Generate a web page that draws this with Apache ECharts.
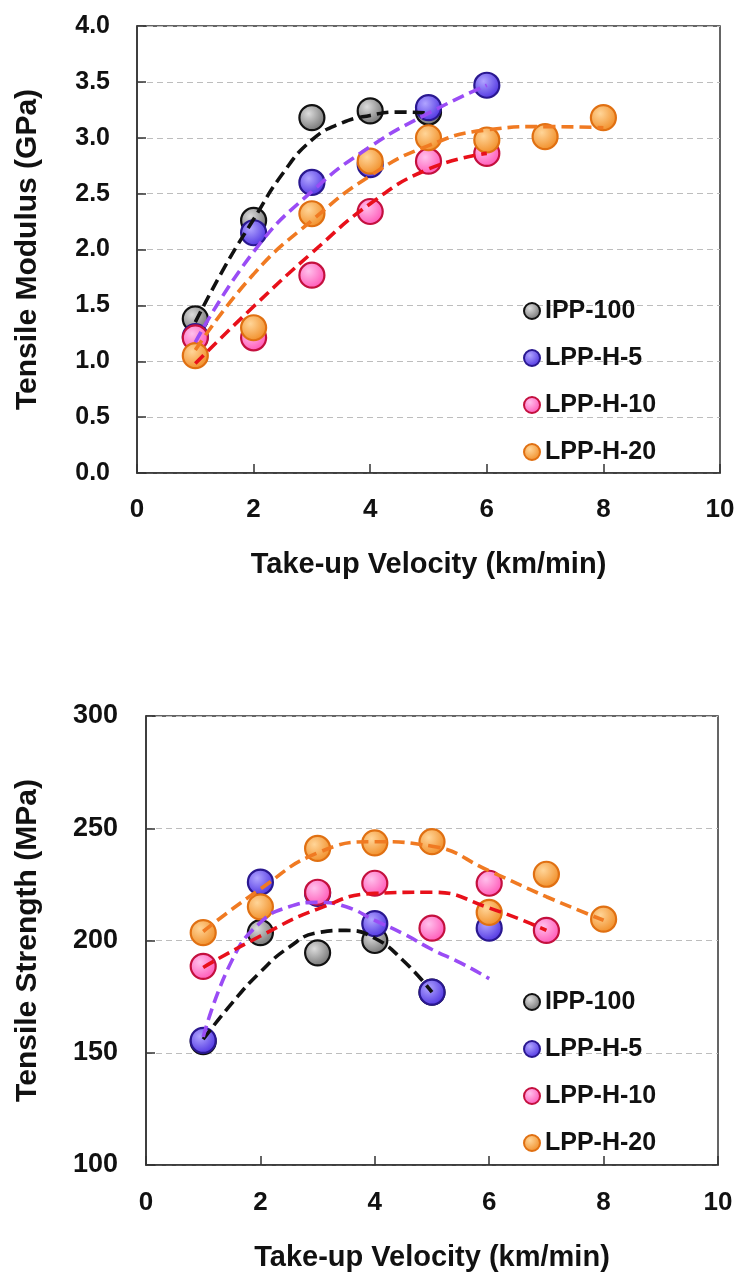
<!DOCTYPE html>
<html>
<head>
<meta charset="utf-8">
<script src="https://cdn.jsdelivr.net/npm/echarts@6/dist/echarts.min.js"></script>
<style>
html,body{margin:0;padding:0;background:#fff;}
#chart{width:740px;height:1275px;}
</style>
</head>
<body>
<div id="chart"></div>
<script>
// ---------- data ----------
const seriesNames = ['IPP-100', 'LPP-H-5', 'LPP-H-10', 'LPP-H-20'];
const xTicks = [0, 2, 4, 6, 8, 10];

// Tensile modulus (GPa) - measured points
const modVelIPP = [1, 2, 3, 4, 5];
const modIPP    = [1.38, 2.26, 3.18, 3.24, 3.23];
const modVelH5  = [1, 2, 3, 4, 5, 6];
const modH5     = [1.22, 2.15, 2.60, 2.76, 3.27, 3.47];
const modVelH10 = [1, 2, 3, 4, 5, 6];
const modH10    = [1.21, 1.21, 1.77, 2.34, 2.79, 2.86];
const modVelH20 = [1, 2, 3, 4, 5, 6, 7, 8];
const modH20    = [1.05, 1.30, 2.32, 2.79, 3.00, 2.98, 3.01, 3.18];

// Tensile modulus - fitted trend lines
const modFitVelIPP = [1, 1.5, 2, 2.5, 3, 3.5, 4, 4.5, 5];
const modFitIPP    = [1.35, 1.84, 2.27, 2.68, 2.98, 3.13, 3.20, 3.23, 3.22];
const modFitVelH5  = [1, 2, 3, 4, 5, 6];
const modFitH5     = [1.17, 1.98, 2.52, 2.92, 3.22, 3.47];
const modFitVelH10 = [1, 2, 3, 4, 5, 6];
const modFitH10    = [0.98, 1.49, 1.97, 2.41, 2.72, 2.86];
const modFitVelH20 = [1, 2, 3, 4, 5, 6, 7, 8];
const modFitH20    = [1.10, 1.78, 2.26, 2.66, 2.93, 3.07, 3.10, 3.09];

// Tensile strength (MPa) - measured points
const strVelIPP = [1, 2, 3, 4, 5];
const strIPP    = [155, 203.5, 194.5, 200, 177];
const strVelH5  = [1, 2, 3, 4, 5, 6];
const strH5     = [155.5, 226, 221, 207.5, 177, 205.5];
const strVelH10 = [1, 3, 4, 5, 6, 7];
const strH10    = [188.5, 221.5, 225.5, 205.5, 225.5, 204.5];
const strVelH20 = [1, 2, 3, 4, 5, 6, 7, 8];
const strH20    = [203.5, 215, 241, 243.5, 244, 212.5, 229.5, 209.5];

// Tensile strength - fitted trend lines
const strFitVelIPP = [1, 1.5, 2, 2.5, 3, 3.5, 4, 4.5, 5];
const strFitIPP    = [156, 172, 186, 197, 203.5, 204.5, 201, 191, 177];
const strFitVelH5  = [1, 1.5, 2, 2.5, 3, 3.5, 4, 4.5, 5, 5.5, 6];
const strFitH5     = [157, 191, 208, 215, 217, 215, 209, 203, 196, 190, 183];
const strFitVelH10 = [1, 2, 3, 4, 5, 6, 7];
const strFitH10    = [188, 202, 214, 221, 221.5, 214.5, 204.5];
const strFitVelH20 = [1, 2, 3, 4, 5, 6, 7, 8];
const strFitH20    = [204, 223, 239, 244, 242, 231, 219.5, 209];

// ---------- styles ----------
const FONT = '"Liberation Sans", Arial, sans-serif';
const markerStyle = [
  {light: '#dcdcdc', base: '#6e6e6e', border: '#111111'},
  {light: '#b0a4ff', base: '#4a2ee0', border: '#2a1890'},
  {light: '#ffc0ec', base: '#ff52b4', border: '#c4103e'},
  {light: '#ffd598', base: '#f08a22', border: '#e07012'}
];
const fitColors = ['#111111', '#9a4cf5', '#e8101a', '#f07a22'];

function pairs(xs, ys) { return xs.map((x, i) => [x, ys[i]]); }
function sphere(k) {
  const m = markerStyle[k];
  return {
    color: {type: 'radial', x: 0.38, y: 0.35, r: 0.7,
      colorStops: [{offset: 0, color: m.light}, {offset: 1, color: m.base}]},
    borderColor: m.border, borderWidth: 2.2, opacity: 1
  };
}

const chartDefs = [
  {pts: [[modVelIPP, modIPP], [modVelH5, modH5], [modVelH10, modH10], [modVelH20, modH20]],
   fits: [[modFitVelIPP, modFitIPP], [modFitVelH5, modFitH5], [modFitVelH10, modFitH10], [modFitVelH20, modFitH20]]},
  {pts: [[strVelIPP, strIPP], [strVelH5, strH5], [strVelH10, strH10], [strVelH20, strH20]],
   fits: [[strFitVelIPP, strFitIPP], [strFitVelH5, strFitH5], [strFitVelH10, strFitH10], [strFitVelH20, strFitH20]]}
];

const series = [];
chartDefs.forEach((def, g) => {
  def.pts.forEach((p, k) => {
    series.push({
      type: 'scatter', name: seriesNames[k], xAxisIndex: g, yAxisIndex: g,
      data: pairs(p[0], p[1]), symbol: 'circle', symbolSize: 25,
      itemStyle: sphere(k), z: 2, silent: true
    });
  });
  def.fits.forEach((p, k) => {
    series.push({
      type: 'line', name: seriesNames[k] + ' fit', xAxisIndex: g, yAxisIndex: g,
      data: pairs(p[0], p[1]), smooth: 0.5, showSymbol: false, symbol: 'none',
      lineStyle: {color: fitColors[k], width: 3.6, type: [12, 6]},
      z: 3, silent: true
    });
  });
});

const axisLineStyle = {color: '#333', width: 1.5};
function xAxisDef(g, gap, lblMargin) {
  return {
    type: 'value', gridIndex: g, min: 0, max: 10, interval: 2,
    name: 'Take-up Velocity (km/min)', nameLocation: 'middle', nameGap: gap,
    nameTextStyle: {fontFamily: FONT, fontWeight: 'bold', fontSize: 29, color: '#111'},
    axisLine: {show: true, onZero: false, lineStyle: axisLineStyle},
    axisTick: {show: true, inside: true, length: 9, lineStyle: {color: '#333', width: 1.5}},
    axisLabel: {fontFamily: FONT, fontWeight: 'bold', fontSize: 26, color: '#111', margin: lblMargin},
    splitLine: {show: false}
  };
}
function yAxisDef(g, min, max, interval, name, gap, lblMargin, fmt, fs) {
  return {
    type: 'value', gridIndex: g, min: min, max: max, interval: interval,
    name: name, nameLocation: 'middle', nameGap: gap,
    nameTextStyle: {fontFamily: FONT, fontWeight: 'bold', fontSize: 30, color: '#111'},
    axisLine: {show: true, onZero: false, lineStyle: axisLineStyle},
    axisTick: {show: true, inside: true, length: 9, lineStyle: {color: '#333', width: 1.5}},
    axisLabel: {fontFamily: FONT, fontWeight: 'bold', fontSize: fs, color: '#111', margin: lblMargin, formatter: fmt},
    splitLine: {show: true, lineStyle: {color: '#bdbdbd', width: 1, type: [6, 4]}}
  };
}
function legendDef(top) {
  return {
    data: seriesNames, orient: 'vertical', left: 518, top: top,
    itemWidth: 16, itemHeight: 16, itemGap: 19, icon: 'circle',
    textStyle: {fontFamily: FONT, fontWeight: 'bold', fontSize: 25, color: '#111', lineHeight: 28},
    selectedMode: false
  };
}

const option = {
  animation: false,
  backgroundColor: '#fff',
  grid: [
    {left: 137, top: 26, width: 583, height: 447, show: true, borderColor: '#333', borderWidth: 1.5, backgroundColor: 'transparent'},
    {left: 146, top: 716, width: 572, height: 449, show: true, borderColor: '#333', borderWidth: 1.5, backgroundColor: 'transparent'}
  ],
  legend: [legendDef(292), legendDef(983)],
  xAxis: [xAxisDef(0, 77, 24), xAxisDef(1, 78, 25)],
  yAxis: [
    yAxisDef(0, 0, 4, 0.5, 'Tensile Modulus (GPa)', 94, 27, v => v.toFixed(1), 25),
    yAxisDef(1, 100, 300, 50, 'Tensile Strength (MPa)', 103, 28, v => String(v), 27)
  ],
  series: series
};

const chart = echarts.init(document.getElementById('chart'), null, {renderer: 'canvas'});
chart.setOption(option);
</script>
</body>
</html>
